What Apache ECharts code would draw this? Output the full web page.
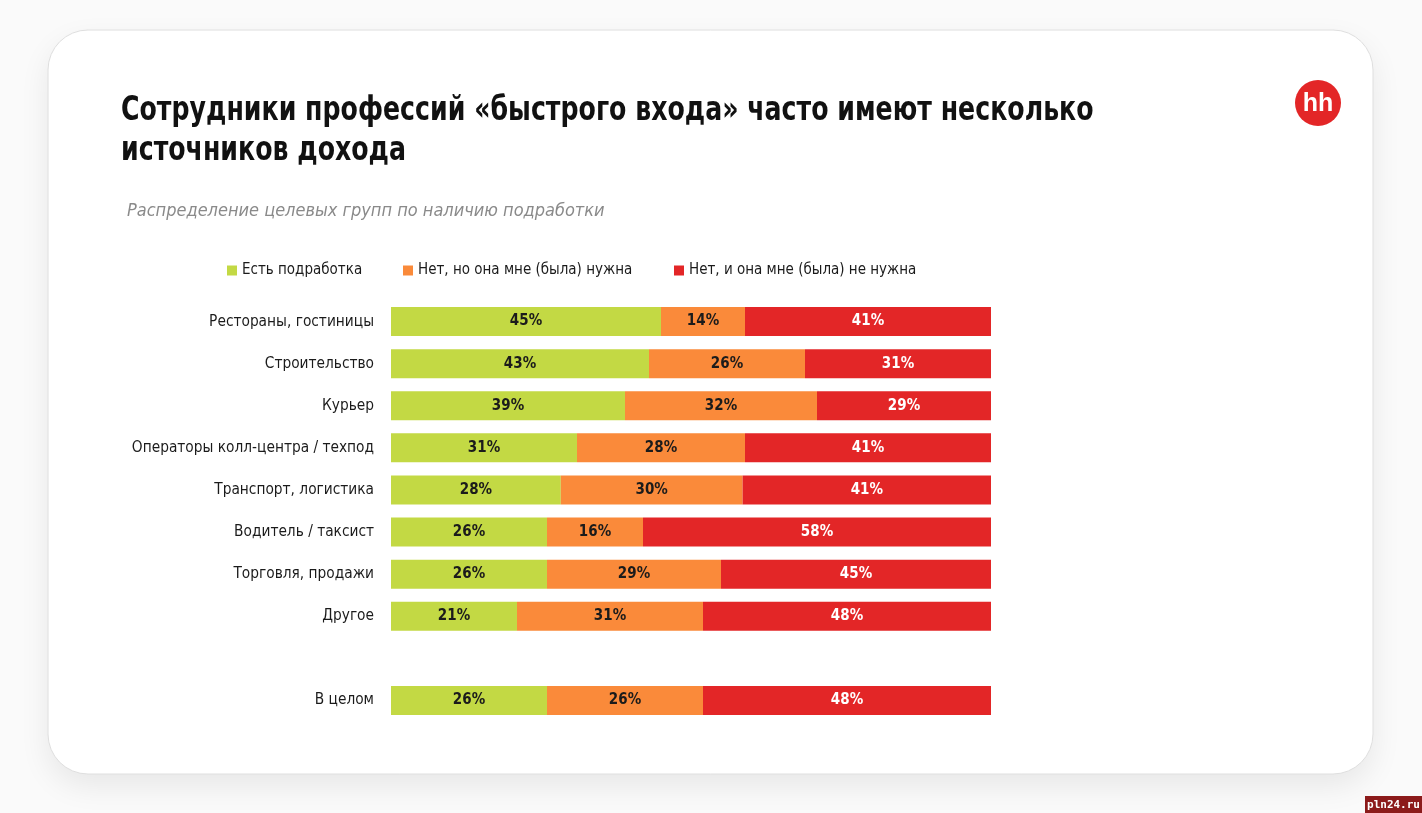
<!DOCTYPE html>
<html>
<head>
<meta charset="utf-8">
<script src="https://cdn.jsdelivr.net/npm/echarts@6/dist/echarts.min.js"></script>
<style>
html,body{margin:0;padding:0;background:#fafafa;}
#chart{width:1422px;height:813px;}
</style>
</head>
<body>
<div id="chart"></div>
<script>
const categories = ['Рестораны, гостиницы','Строительство','Курьер','Операторы колл-центра / техпод','Транспорт, логистика','Водитель / таксист','Торговля, продажи','Другое','','В целом'];
const seriesNames = ['Есть подработка','Нет, но она мне (была) нужна','Нет, и она мне (была) не нужна'];
const hasSideJob = [45, 43, 39, 31, 28.3, 26, 26, 21, null, 26];
const needed     = [14, 26, 32, 28, 30.3, 16, 29, 31, null, 26];
const notNeeded  = [41, 31, 29, 41, 41.4, 58, 45, 48, null, 48];
const titleLines = ['Сотрудники профессий «быстрого входа» часто имеют несколько', 'источников дохода'];
const subtitle = 'Распределение целевых групп по наличию подработки';
const colors = ['#c3d944', '#fa8a3a', '#e32627'];
const labelColors = ['#1b1b1b', '#1b1b1b', '#ffffff'];
const FONT = '"DejaVu Sans Condensed", "Roboto", sans-serif';

const chart = echarts.init(document.getElementById('chart'), null, {renderer:'canvas'});
const data = [hasSideJob, needed, notNeeded];
const series = seriesNames.map((name, i) => ({
  name: name,
  type: 'bar',
  stack: 'total',
  barWidth: 29,
  data: data[i],
  itemStyle: {color: colors[i]},
  label: {
    show: true,
    position: 'inside',
    color: labelColors[i],
    fontFamily: FONT,
    fontSize: 15,
    fontWeight: 'bold',
    formatter: p => p.value == null ? '' : Math.round(p.value) + '%'
  },
  emphasis: {disabled: true}
}));
const legendLefts = [222, 398, 669];
const option = {
  animation: false,
  backgroundColor: 'transparent',
  title: [{
    text: subtitle,
    left: 122, top: 197,
    textStyle: {fontFamily: FONT, fontSize: 18, fontStyle: 'italic', fontWeight: 'normal', color: '#8a8a8a'}
  }],
  legend: seriesNames.map((n, i) => ({
    data: [n], left: legendLefts[i], top: 258, icon: 'rect', itemWidth: 10, itemHeight: 10, itemGap: 6,
    selectedMode: false,
    textStyle: {fontFamily: FONT, fontSize: 15, color: '#1b1b1b', padding: [0,0,0,0]}
  })),
  grid: {left: 391, top: 300.5, width: 600, height: 421, containLabel: false},
  xAxis: {type: 'value', min: 0, max: 100, show: false},
  yAxis: {
    type: 'category', data: categories, inverse: true,
    axisLine: {show: false}, axisTick: {show: false}, splitLine: {show: false},
    axisLabel: {margin: 17, fontFamily: FONT, fontSize: 15.3, color: '#1b1b1b'}
  },
  series: series,
  graphic: [{
    type: 'rect', z: -10, silent: true,
    shape: {x: 48, y: 30, width: 1325, height: 744, r: 40},
    style: {fill: '#ffffff', stroke: '#dedede', lineWidth: 1, shadowBlur: 30, shadowColor: 'rgba(0,0,0,0.08)', shadowOffsetY: 12}
  }, {
    type: 'text', z: 10, silent: true, x: 121, y: 111, scaleX: 0.85,
    style: {text: titleLines[0], fill: '#111', font: 'bold 33px "DejaVu Sans Condensed", sans-serif', verticalAlign: 'middle'}
  }, {
    type: 'text', z: 10, silent: true, x: 121, y: 151, scaleX: 0.85,
    style: {text: titleLines[1], fill: '#111', font: 'bold 33px "DejaVu Sans Condensed", sans-serif', verticalAlign: 'middle'}
  }, {
    type: 'circle', z: 10, silent: true,
    shape: {cx: 1318, cy: 103, r: 23},
    style: {fill: '#e32627'}
  }, {
    type: 'text', z: 11, silent: true, x: 1318, y: 104,
    style: {text: 'hh', fill: '#fff', font: 'bold 25px "Liberation Sans", Arial, sans-serif', align: 'center', verticalAlign: 'middle'}
  }, {
    type: 'rect', z: 10, silent: true,
    shape: {x: 1365, y: 796, width: 57, height: 17},
    style: {fill: '#8c1b1b'}
  }, {
    type: 'text', z: 11, silent: true, x: 1393.5, y: 805,
    style: {text: 'pln24.ru', fill: '#fff', font: 'bold 11px "DejaVu Sans Mono", monospace', align: 'center', verticalAlign: 'middle'}
  }]
};
chart.setOption(option);
</script>
</body>
</html>
